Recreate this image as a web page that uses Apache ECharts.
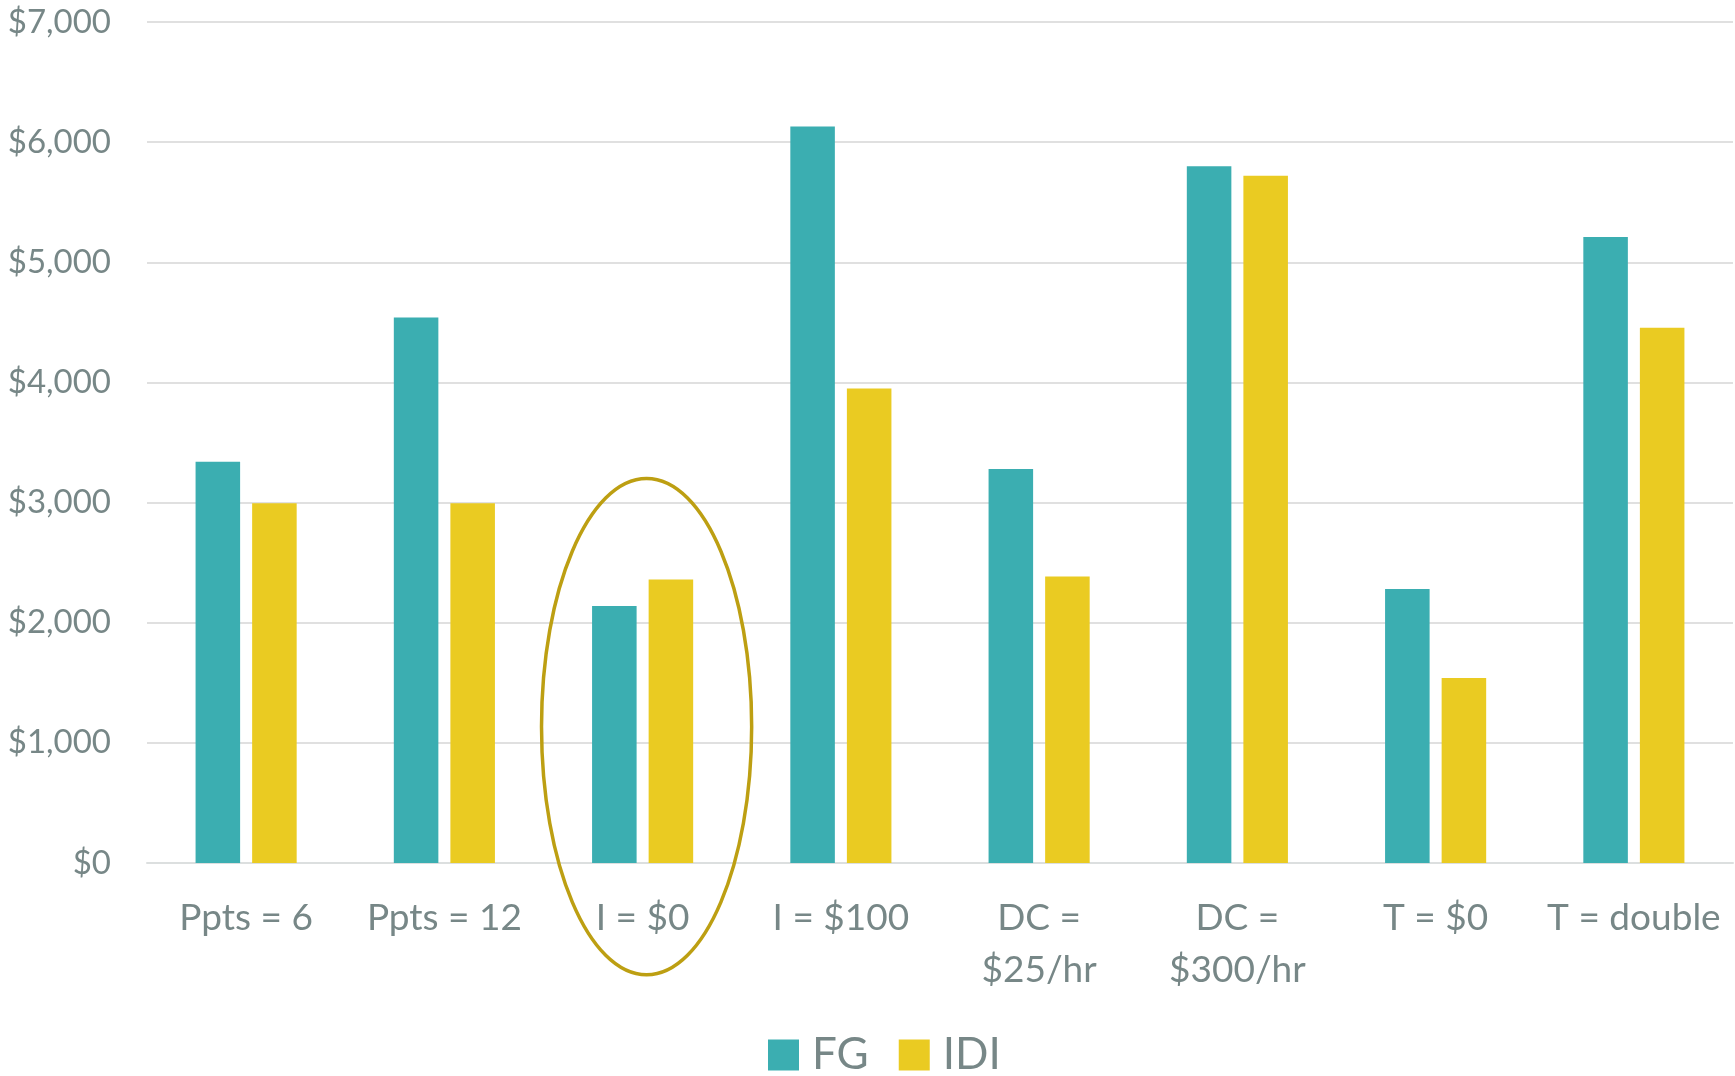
<!DOCTYPE html>
<html>
<head>
<meta charset="utf-8">
<script src="https://cdn.jsdelivr.net/npm/echarts@6/dist/echarts.min.js"></script>
<style>html,body{margin:0;padding:0;background:#fff;}#c{width:1735px;height:1076px;}</style>
</head>
<body>
<div id="c"></div>
<script>
const categories = ['Ppts = 6', 'Ppts = 12', 'I = $0', 'I = $100', 'DC =\n$25/hr', 'DC =\n$300/hr', 'T = $0', 'T = double'];
const fgValues = [3340, 4540, 2140, 6130, 3280, 5800, 2280, 5210];
const idiValues = [2995, 2995, 2360, 3950, 2385, 5720, 1540, 4455];
const yTicks = [0, 1000, 2000, 3000, 4000, 5000, 6000, 7000];
const highlightIndex = 2;
const highlightTop = 3200, highlightBottom = -930;

const TEXT = '#778787';
const FONT = 'Lato';
const chart = echarts.init(document.getElementById('c'));
chart.setOption({
  animation: false,
  backgroundColor: '#fff',
  textStyle: { fontFamily: FONT },
  grid: { left: 147, right: 2, top: 22, bottom: 213 },
  legend: {
    data: ['FG', 'IDI'],
    top: 1028, left: 763,
    itemWidth: 31, itemHeight: 31, itemGap: 30,
    icon: 'rect',
    textStyle: { color: TEXT, fontSize: 44, fontFamily: FONT, padding: [0, 0, 0, 8] }
  },
  xAxis: {
    type: 'category',
    data: categories,
    axisLine: { lineStyle: { color: '#dcdfdf', width: 2 } },
    axisTick: { show: false },
    axisLabel: { color: TEXT, fontSize: 37, lineHeight: 52, margin: 29, interval: 0, fontFamily: FONT }
  },
  yAxis: {
    type: 'value',
    min: yTicks[0], max: yTicks[yTicks.length - 1], interval: 1000,
    axisLine: { show: false },
    axisTick: { show: false },
    splitLine: { lineStyle: { color: '#e0e0e0', width: 2 } },
    axisLabel: {
      color: TEXT, fontSize: 33, margin: 36, fontFamily: FONT,
      formatter: v => '$' + v.toLocaleString('en-US')
    }
  },
  series: [
    { name: 'FG', type: 'bar', data: fgValues, itemStyle: { color: '#3baeb1' }, barGap: '27%', barCategoryGap: '49%' },
    { name: 'IDI', type: 'bar', data: idiValues, itemStyle: { color: '#eacb22' }, barGap: '27%', barCategoryGap: '49%' }
  ]
});

const cx = chart.convertToPixel({ xAxisIndex: 0 }, highlightIndex);
const band = chart.convertToPixel({ xAxisIndex: 0 }, highlightIndex + 1) - cx;
const yTop = chart.convertToPixel({ yAxisIndex: 0 }, highlightTop);
const yBot = chart.convertToPixel({ yAxisIndex: 0 }, highlightBottom);
chart.setOption({
  graphic: [{
    type: 'ellipse',
    shape: { cx: cx + band * 0.02, cy: (yTop + yBot) / 2, rx: band * 0.53, ry: (yBot - yTop) / 2 },
    style: { fill: 'none', stroke: '#bd9f12', lineWidth: 3.5 },
    z: 100
  }]
});
</script>
</body>
</html>
